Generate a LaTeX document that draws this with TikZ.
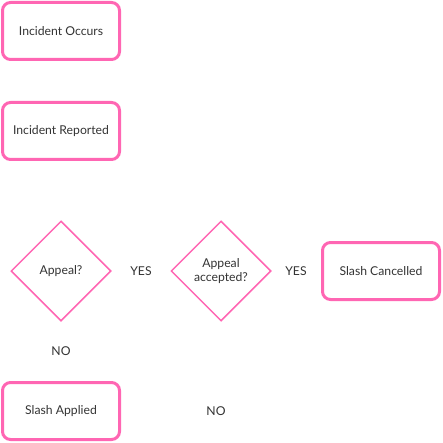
\documentclass[tikz,border=0pt]{standalone}
\usepackage{fontspec}
\setmainfont{Lato}
\usetikzlibrary{shapes.geometric}
\definecolor{flowpink}{HTML}{FF66B3}
\definecolor{flowtext}{HTML}{333333}
\tikzset{
  box/.style={draw=flowpink, line width=3pt, rounded corners=8pt,
    minimum width=117pt, minimum height=57pt, align=center, text=flowtext, font=\fontsize{12.2}{14}\selectfont},
  decision/.style={diamond, draw=flowpink, line width=1.5pt, aspect=1, inner sep=0pt,
    minimum width=100pt, minimum height=100pt, align=center, text=flowtext, font=\fontsize{12.2}{13.5}\selectfont},
  lbl/.style={text=flowtext, inner sep=1pt, font=\fontsize{12.2}{14}\selectfont}
}
\begin{document}
\begin{tikzpicture}[x=1pt, y=-1pt]
            \useasboundingbox (0,0) rectangle (443,443);
            \node[box] (occurs) at (61,31) {Incident Occurs};
            \node[box] (reported) at (61,131) {Incident Reported};
            \node[decision] (appeal) at (61,271) {Appeal?};
            \node[lbl] (yes1) at (141,271) {YES};
            \node[decision] (accepted) at (221,271) {Appeal\\accepted?};
            \node[lbl] (yes2) at (296,271) {YES};
            \node[box] (cancelled) at (381,271) {Slash Cancelled};
            \node[lbl] (no1) at (61,351) {NO};
            \node[box] (applied) at (61,411) {Slash Applied};
            \node[lbl] (no2) at (216,411) {NO};
        \end{tikzpicture}
\end{document}
